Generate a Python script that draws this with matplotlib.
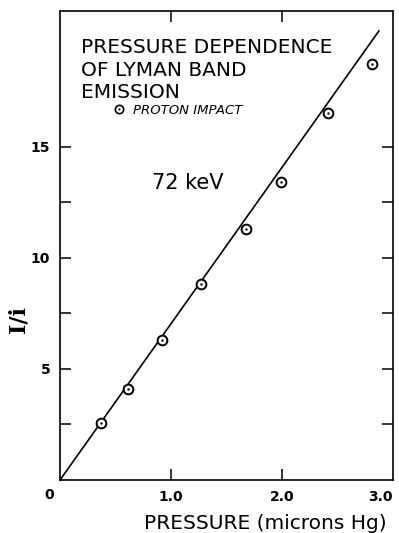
import matplotlib
matplotlib.use("Agg")
import matplotlib.pyplot as plt
import matplotlib.transforms as mtransforms

# Data
pressure = [0.37, 0.615, 0.915, 1.265, 1.67, 1.99, 2.41, 2.81]
intensity = [2.55, 4.1, 6.3, 8.8, 11.3, 13.42, 16.53, 18.73]
fit_x = [0.0, 2.87]
fit_y = [0.0, 20.2]
x_ticks = [1.0, 2.0, 3.0]
x_ticklabels = ["1.0", "2.0", "3.0"]
y_ticks = [2.5, 5, 7.5, 10, 12.5, 15]
y_ticklabels = ["", "5", "", "10", "", "15"]

title_lines = ["PRESSURE DEPENDENCE", "OF LYMAN BAND", "EMISSION"]
legend_pos = [0.53, 16.7]

fig = plt.figure(figsize=(3.99, 5.33), dpi=100)
ax = fig.add_axes([60/399, 53/533, (393.3-60)/399, (480-11)/533])

ax.plot(fit_x, fit_y, color="black", lw=1.2, zorder=2)
ax.plot(pressure, intensity, linestyle="none", marker="o", ms=7, mfc="white",
        mec="black", mew=1.4, zorder=3)
ax.plot(pressure, intensity, linestyle="none", marker="o", ms=1.7, mfc="black",
        mec="black", mew=0, zorder=4)

ax.set_xlim(0, 3.0)
ax.set_ylim(0, 21.1)

ax.set_xticks(x_ticks)
ax.set_xticklabels(x_ticklabels)
ax.set_yticks(y_ticks)
ax.set_yticklabels(y_ticklabels)
ax.tick_params(direction="in", length=8, width=1.1, top=True, right=True,
               labelsize=10, pad=7)
for lbl in ax.get_xticklabels() + ax.get_yticklabels():
    lbl.set_fontweight("bold")
# top/bottom ticks only at 1.0 and 2.0 (no tick at 3.0)
ax.xaxis.get_major_ticks()[2].tick1line.set_visible(False)
ax.xaxis.get_major_ticks()[2].tick2line.set_visible(False)
# shift the 3.0 label slightly left as in the reference
lbl3 = ax.get_xticklabels()[2]
lbl3.set_transform(lbl3.get_transform() + mtransforms.ScaledTranslation(-13/100, 0, fig.dpi_scale_trans))

for s in ax.spines.values():
    s.set_linewidth(1.2)

# origin label
ax.text(-0.1, 0.0, "0", ha="center", va="top", fontsize=10, fontweight="bold",
        transform=ax.transData + mtransforms.ScaledTranslation(0, -8/100, fig.dpi_scale_trans))

# title block
for i, line in enumerate(title_lines):
    fig.text(81/399, 1 - (53 + 22.5*i)/533, line, fontsize=14.5,
             ha="left", va="baseline")

# legend entry
ax.plot([legend_pos[0]], [legend_pos[1]], linestyle="none", marker="o",
        ms=6, mfc="white", mec="black", mew=1.2, clip_on=False)
ax.plot([legend_pos[0]], [legend_pos[1]], linestyle="none", marker="o",
        ms=1.5, mfc="black", mew=0, clip_on=False)
fig.text(133/399, 1 - 113.5/533, "PROTON IMPACT", fontsize=9.5, style="italic",
         ha="left", va="baseline")

fig.text(152/399, 1 - 189/533, "72 keV", fontsize=15, ha="left", va="baseline")

fig.text(265.5/399, 1 - 529/533, "PRESSURE (microns Hg)", fontsize=14.5,
         ha="center", va="baseline")
fig.text(19/399, 1 - 320/533, "I/i", fontsize=16, fontweight="bold",
         family="DejaVu Serif", rotation=90, ha="center", va="center")

fig.savefig("out.png", dpi=100)
